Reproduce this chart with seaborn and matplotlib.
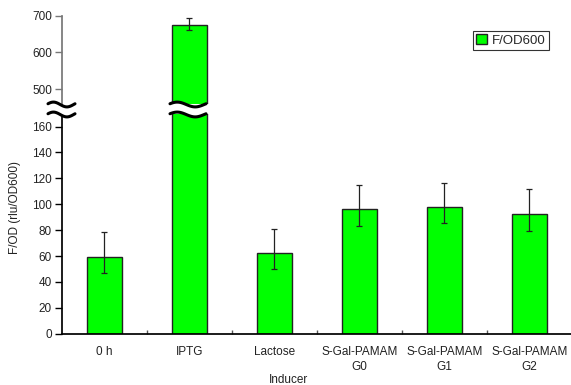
import numpy as np
import pandas as pd
import matplotlib
matplotlib.use("Agg")
import matplotlib.pyplot as plt
import seaborn as sns

categories = ["0 h", "IPTG", "Lactose", "S-Gal-PAMAM\nG0", "S-Gal-PAMAM\nG1", "S-Gal-PAMAM\nG2"]
values = [59.5, 675, 62, 96, 97.5, 92.5]
err_up = [19.3, 19.5, 18.8, 18.7, 19.2, 19.3]
err_down = [12.9, 14, 12.4, 12.9, 12.1, 12.8]
low_ticks = [0, 20, 40, 60, 80, 100, 120, 140, 160]
high_ticks = [500, 600, 700]

sns.set_theme(style="white")
plt.rcParams['font.family'] = ['Liberation Sans', 'DejaVu Sans']

df = pd.DataFrame({"Inducer": categories, "F/OD600": values})

W, H = 571, 385
fig = plt.figure(figsize=(W / 100, H / 100), dpi=100)

left = 61.7 / W
width = (572 - 61.7) / W
ax_bot = fig.add_axes([left, 1 - 333.7 / H, width, (333.7 - 113.6) / H])
ax_top = fig.add_axes([left, 1 - 103.8 / H, width, (103.8 - 15.7) / H])

green = "#00ff00"
for ax in (ax_bot, ax_top):
    sns.barplot(data=df, x="Inducer", y="F/OD600", ax=ax, color=green,
                saturation=1, width=0.41, edgecolor="#222222", linewidth=1,
                label="F/OD600")
    ax.errorbar(np.arange(len(values)), values, yerr=[err_down, err_up],
                fmt="none", ecolor="#222222", elinewidth=0.9, capsize=2.2,
                capthick=0.9)
    ax.set_xlim(-0.5, len(categories) - 0.5)
    ax.set_xlabel("")
    ax.set_ylabel("")
    ax.spines["top"].set_visible(False)
    ax.spines["right"].set_visible(False)
    if ax.legend_:
        ax.legend_.remove()

ax_bot.set_ylim(0, 170)
ax_bot.set_yticks(low_ticks)
ax_top.set_ylim(460, 700)
ax_top.set_yticks(high_ticks)

ax_top.spines["bottom"].set_visible(False)
ax_top.set_xticks([])
ax_top.spines["left"].set_color("#777777")
ax_top.tick_params(axis="y", direction="out", length=5, width=1, color="#777777",
                   left=True, labelsize=8.5, pad=2, labelcolor="#222222")

ax_bot.spines["left"].set_color("black")
ax_bot.spines["bottom"].set_color("black")
ax_bot.tick_params(axis="y", direction="out", length=5, width=1, color="black",
                   left=True, labelsize=8.5, pad=2, labelcolor="#222222")
ax_bot.set_xticks(np.arange(len(categories)))
ax_bot.set_xticklabels(categories, linespacing=1.3)
ax_bot.tick_params(axis="x", which="major", length=0, labelsize=8.5, pad=9,
                   labelcolor="#222222")
ax_bot.set_xticks(np.arange(len(categories) - 1) + 0.5, minor=True)
ax_bot.tick_params(axis="x", which="minor", direction="in", length=3, width=1,
                   color="#555555", bottom=True)

# broken-axis wave marks
def wave(x0, x1, yc):
    xs = np.linspace(x0, x1, 60)
    ys = yc + 2.4 * np.sin(np.linspace(-np.pi * 0.9, np.pi * 1.1, 60))
    return xs / W, 1 - ys / H

for x0, x1 in [(48, 75), (170, 206)]:
    xa, ya = wave(x0, x1, 104.5)
    xb, yb = wave(x0, x1, 114.5)
    fig.patches.append(plt.Polygon(np.column_stack([np.r_[xa, xb[::-1]], np.r_[ya, yb[::-1]]]),
                                   closed=True, facecolor="white", edgecolor="none",
                                   transform=fig.transFigure, zorder=5))
    fig.lines.append(plt.Line2D(xa, ya, color="black", lw=2.2, transform=fig.transFigure, zorder=6))
    fig.lines.append(plt.Line2D(xb, yb, color="black", lw=2.2, transform=fig.transFigure, zorder=6))

fig.text(15 / W, 1 - 208 / H, "F/OD (rlu/OD600)", rotation=90, ha="center", va="center",
         fontsize=8.5, color="#222222")
fig.text(289 / W, 1 - 380 / H, "Inducer", ha="center", va="center", fontsize=8.5,
         color="#222222")

handles, labels = ax_top.get_legend_handles_labels()
leg = fig.legend(handles[:1], ["F/OD600"], loc="upper left",
                 bbox_to_anchor=(473 / W, 1 - 31 / H), fontsize=9.5, frameon=True,
                 fancybox=False, handlelength=0.8, handleheight=0.8, handletextpad=0.35,
                 borderpad=0.25, borderaxespad=0)
leg.get_frame().set_edgecolor("black")
leg.get_frame().set_linewidth(0.8)

fig.savefig("out.png", dpi=100)
